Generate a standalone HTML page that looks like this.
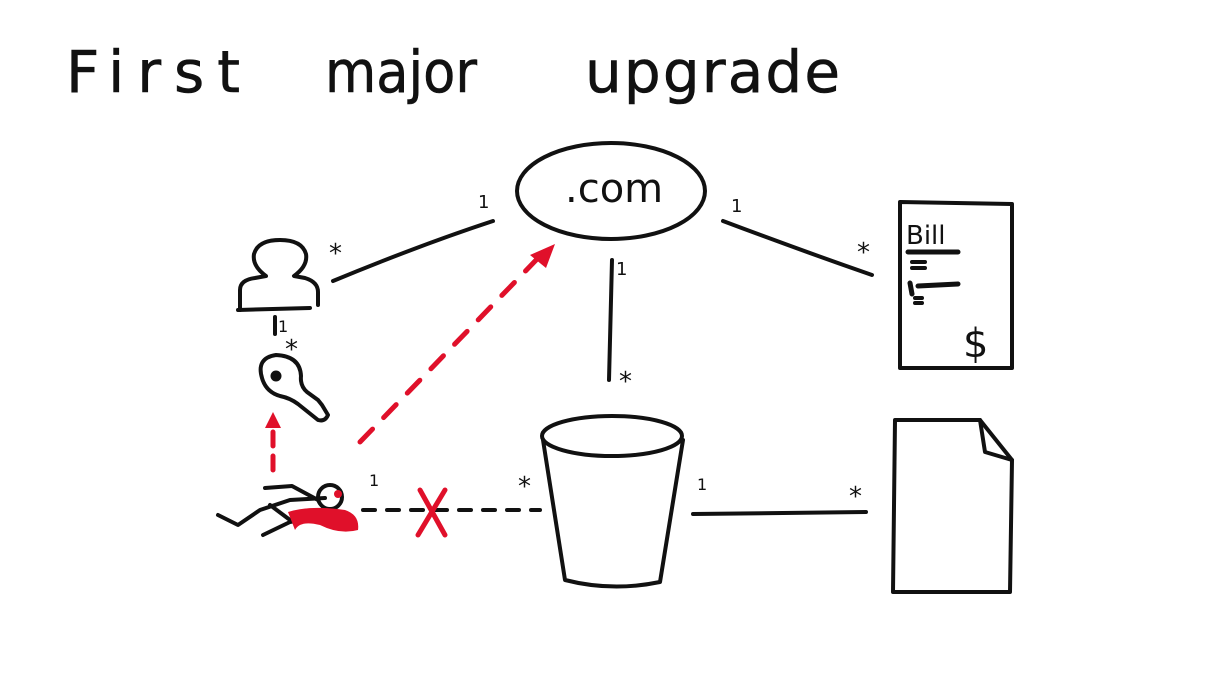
<!DOCTYPE html>
<html><head><meta charset="utf-8"><style>
html,body{margin:0;padding:0;background:#fff;}
svg{display:block}
text{font-family:"DejaVu Sans","Liberation Sans",sans-serif;fill:#111}
</style></head><body>
<svg width="1229" height="691" viewBox="0 0 1229 691" xmlns="http://www.w3.org/2000/svg">
<g font-size="58" stroke="#111" stroke-width="0.6">
<text x="66" y="92" textLength="174" lengthAdjust="spacing">First</text>
<text x="325" y="92" textLength="152" lengthAdjust="spacingAndGlyphs">major</text>
<text x="585" y="92" textLength="255" lengthAdjust="spacing">upgrade</text>
</g>
<g fill="none" stroke="#111" stroke-width="4" stroke-linecap="round" stroke-linejoin="round">
<ellipse cx="611" cy="191" rx="94" ry="48"/>
<path d="M240 310 L240 290 Q240 280 255 278 L266 276 Q252 266 254 254 Q258 240 280 240 Q302 240 306 254 Q308 266 294 276 L305 278 Q318 282 318 292 L318 305"/>
<path d="M238 310 L310 308"/>
<path d="M262 378 Q256 358 276 355 Q300 356 301 376 Q300 386 307 392 L318 400 L322 405 L328 415 Q325 422 318 420 L298 404 Q290 398 280 396 Q266 392 262 378 Z"/>
<circle cx="276" cy="376" r="3.5" fill="#111"/>
<path d="M333 281 Q420 245 493 221"/>
<path d="M275 317 L275 334"/>
<path d="M723 221 Q800 250 872 275"/>
<path d="M612 260 L609 380"/>
<path d="M693 514 L866 512"/>
<ellipse cx="612" cy="436" rx="70" ry="20"/>
<path d="M543 440 L565 580 Q612 592 660 582 L683 440"/>
<path d="M900 202 L1012 204 L1012 368 L900 368 Z"/>
<path d="M908 252 L958 252 M910 283 L912 294 M918 286 L958 284" stroke-width="5"/>
<path d="M912 262 L925 262 M912 268 L925 268 M915 298 L922 298 M915 303 L922 303"/>
<path d="M895 420 L980 420 L1012 460 L1010 592 L893 592 Z"/>
<path d="M980 420 L985 452 L1012 460"/>
<path d="M218 515 L238 525 L260 510 L290 500 L325 498"/>
<path d="M265 488 L292 486 L318 500"/>
<path d="M263 535 L290 522 L300 520 M270 505 L290 520"/>
<circle cx="330" cy="497" r="12"/>
<path d="M363 510 L540 510" stroke-dasharray="12 12"/>
</g>
<g fill="#e0102a" stroke="none">
<path d="M288 512 Q310 505 345 510 Q360 515 358 530 Q340 535 320 525 Q300 520 295 530 Z"/>
<circle cx="338" cy="494" r="4"/>
</g>
<g fill="none" stroke="#e0102a" stroke-width="5" stroke-linecap="round">
<path d="M360 442 L540 256" stroke-dasharray="18 16"/>
<path d="M273 470 L273 430" stroke-dasharray="14 10"/>
<path d="M420 490 L445 535 M445 490 L418 535"/>
</g>
<g fill="#e0102a">
<path d="M555 244 L530 255 L546 268 Z"/>
<path d="M273 412 L265 428 L281 428 Z"/>
</g>
<text x="565" y="202" font-size="40">.com</text>
<text x="906" y="244" font-size="26">Bill</text>
<text x="963" y="357" font-size="40">$</text>
<g font-size="26">
<text x="329" y="262">*</text>
<text x="478" y="208" font-size="18">1</text>
<text x="731" y="212" font-size="18">1</text>
<text x="857" y="261">*</text>
<text x="616" y="275" font-size="18">1</text>
<text x="619" y="390">*</text>
<text x="285" y="358">*</text>
<text x="278" y="332" font-size="16">1</text>
<text x="369" y="486" font-size="16">1</text>
<text x="518" y="495">*</text>
<text x="697" y="490" font-size="16">1</text>
<text x="849" y="505">*</text>
</g>
</svg>
</body></html>
